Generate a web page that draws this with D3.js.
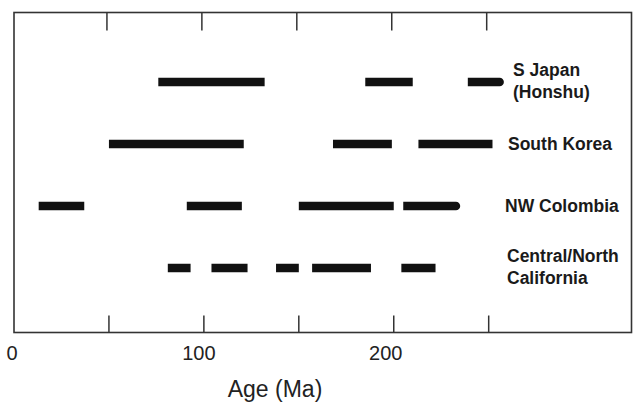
<!DOCTYPE html>
<html>
<head>
<meta charset="utf-8">
<script src="https://cdn.jsdelivr.net/npm/d3@7"></script>
<style>
  body { margin: 0; background: #fff; }
  svg { display: block; font-family: "Liberation Sans", Arial, sans-serif; }
</style>
</head>
<body>
<div id="chart"></div>
<script>
// age ranges (Ma), one list per region
var regions = ["S Japan (Honshu)", "South Korea", "NW Colombia", "Central/North California"];
var regionLabels = [["S Japan", "(Honshu)"], ["South Korea"], ["NW Colombia"], ["Central/North", "California"]];

var japanAges = [[76, 132], [185, 210], [239, 258]];
var koreaAges = [[50, 121], [168, 199], [213, 252]];
var colombiaAges = [[13, 37], [91, 120], [150, 200], [205, 235]];
var californiaAges = [[81, 93], [104, 123], [138, 150], [157, 188], [204, 222]];

var tickValues = [50, 100, 150, 200, 250];
var tickLabels = [0, 100, 200];
var axisTitle = "Age (Ma)";

var width = 633,
    height = 403;

var svg = d3.select("#chart").append("svg")
    .attr("width", width)
    .attr("height", height);

var x = d3.scaleLinear()
    .domain([0, 326])
    .range([14, 633]);

var y = d3.scalePoint()
    .domain(regions)
    .range([82, 268]);

var frameTop = 12.5, frameBottom = 332.5, frameRight = 631.5;
var frameColor = "#333";

// frame
svg.append("rect")
    .attr("x", x(0))
    .attr("y", frameTop)
    .attr("width", frameRight - x(0))
    .attr("height", frameBottom - frameTop)
    .attr("fill", "none")
    .attr("stroke", frameColor)
    .attr("stroke-width", 1.6);

// ticks on top (pointing down) and bottom (pointing up)
svg.append("g").selectAll("line")
    .data(tickValues)
    .enter().append("line")
    .attr("x1", d => x(d) - 2).attr("x2", d => x(d) - 2)
    .attr("y1", frameTop).attr("y2", frameTop + 18)
    .attr("stroke", frameColor)
    .attr("stroke-width", 1.5);

svg.append("g").selectAll("line")
    .data(tickValues)
    .enter().append("line")
    .attr("x1", d => x(d)).attr("x2", d => x(d))
    .attr("y1", frameBottom).attr("y2", frameBottom - 17)
    .attr("stroke", frameColor)
    .attr("stroke-width", 1.5);

// tick labels
svg.append("g").selectAll("text")
    .data(tickLabels)
    .enter().append("text")
    .attr("x", d => x(d) - 2 - d * 0.03)
    .attr("y", 360)
    .attr("text-anchor", "middle")
    .attr("font-size", 20)
    .attr("fill", "#222")
    .text(d => d);

svg.append("text")
    .attr("x", 275)
    .attr("y", 397)
    .attr("text-anchor", "middle")
    .attr("font-size", 23)
    .attr("fill", "#222")
    .text(axisTitle);

// bars
var allAges = [japanAges, koreaAges, colombiaAges, californiaAges];
var roundRight = {"0-2": true, "2-3": true}; // hand-drawn rounded ends
var barH = 8.5;

function barPath(x0, x1, cy, round) {
    var t = cy - barH / 2, b = cy + barH / 2, r = barH / 2;
    if (!round) return "M" + x0 + "," + t + "H" + x1 + "V" + b + "H" + x0 + "Z";
    return "M" + x0 + "," + t + "H" + (x1 - r) +
        "A" + r + "," + r + " 0 0,1 " + (x1 - r) + "," + b +
        "H" + x0 + "Z";
}

allAges.forEach(function(ages, i) {
    var cy = y(regions[i]);
    svg.append("g").selectAll("path")
        .data(ages)
        .enter().append("path")
        .attr("d", (d, j) => barPath(x(d[0]), x(d[1]), cy, roundRight[i + "-" + j]))
        .attr("fill", "#111");
});

// region labels
var labelDx = [5, 0, -3, -1];
regionLabels.forEach(function(lines, i) {
    var cy = y(regions[i]);
    var lx = 508 + labelDx[i];
    var t = svg.append("text")
        .attr("x", lx)
        .attr("font-size", 17.5)
        .attr("font-weight", "bold")
        .attr("fill", "#1a1a1a");
    if (lines.length == 1) {
        t.attr("y", cy + 5.5).text(lines[0]);
    } else {
        t.append("tspan").attr("x", lx).attr("y", cy - 6).text(lines[0]);
        t.append("tspan").attr("x", lx).attr("y", cy + 15.5).text(lines[1]);
    }
});
</script>
</body>
</html>
